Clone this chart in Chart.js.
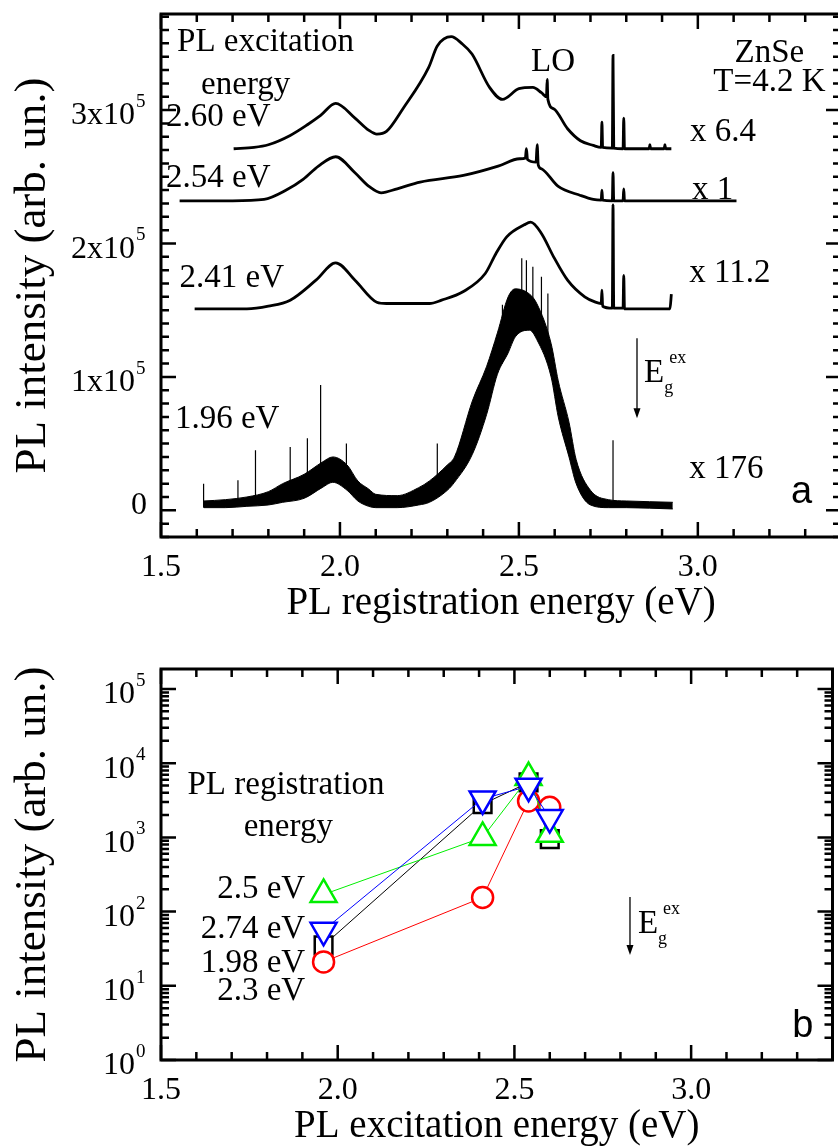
<!DOCTYPE html>
<html>
<head>
<meta charset="utf-8">
<script src="https://cdn.jsdelivr.net/npm/chart.js@4.4.1/dist/chart.umd.min.js"></script>
<style>
  html, body { margin: 0; padding: 0; background: #fff; overflow: hidden; }
  body { width: 838px; height: 1147px; position: relative; }
  canvas { position: absolute; left: 0; }
  #chartA { top: 0; }
  #chartB { top: 640px; }
</style>
</head>
<body>
<canvas id="chartA" width="850" height="640"></canvas>
<canvas id="chartB" width="850" height="512"></canvas>
<script>
const SERIF = "'Liberation Serif', 'Times New Roman', serif";
const SANS = "'Liberation Sans', Arial, sans-serif";

// ---- panel (a): PL spectra, energy in eV, intensity in 10^5 arb. un. (offsets as plotted)
// excitation 2.60 eV (x 6.4)
const e260 = [1.703, 1.76, 1.80, 1.861, 1.909, 1.946, 1.988, 2.042, 2.08, 2.103, 2.13, 2.176, 2.248, 2.272, 2.311, 2.34, 2.369, 2.418, 2.454, 2.50, 2.539, 2.563, 2.577, 2.579, 2.581, 2.597, 2.636, 2.672, 2.708, 2.730, 2.732, 2.734, 2.761, 2.763, 2.765, 2.791, 2.793, 2.795, 2.83, 2.864, 2.866, 2.868, 2.906, 2.908, 2.910, 2.926];
const i260 = [2.71, 2.72, 2.74, 2.81, 2.89, 2.96, 3.05, 2.94, 2.85, 2.82, 2.84, 3.01, 3.32, 3.48, 3.55, 3.50, 3.42, 3.17, 3.08, 3.16, 3.17, 3.13, 3.10, 3.23, 3.08, 3.01, 2.86, 2.77, 2.735, 2.72, 2.91, 2.72, 2.715, 3.41, 2.715, 2.71, 2.94, 2.71, 2.71, 2.71, 2.74, 2.71, 2.71, 2.74, 2.71, 2.71];
// excitation 2.54 eV (x 1)
const e254 = [1.552, 1.62, 1.70, 1.788, 1.85, 1.897, 1.94, 1.988, 2.042, 2.08, 2.115, 2.16, 2.224, 2.345, 2.442, 2.502, 2.518, 2.521, 2.524, 2.548, 2.551, 2.554, 2.563, 2.609, 2.672, 2.708, 2.730, 2.732, 2.734, 2.761, 2.763, 2.765, 2.791, 2.793, 2.795, 2.85, 2.90, 2.95, 3.00, 3.05, 3.108];
const i254 = [2.32, 2.32, 2.32, 2.33, 2.40, 2.48, 2.58, 2.65, 2.53, 2.43, 2.38, 2.41, 2.46, 2.51, 2.58, 2.635, 2.64, 2.71, 2.63, 2.61, 2.74, 2.59, 2.56, 2.43, 2.36, 2.33, 2.325, 2.40, 2.325, 2.32, 2.53, 2.32, 2.32, 2.41, 2.32, 2.32, 2.32, 2.32, 2.32, 2.32, 2.32];
// excitation 2.41 eV (x 11.2)
const e241 = [1.594, 1.74, 1.80, 1.861, 1.933, 1.988, 2.042, 2.103, 2.13, 2.25, 2.284, 2.345, 2.406, 2.436, 2.466, 2.515, 2.533, 2.563, 2.597, 2.636, 2.684, 2.714, 2.730, 2.732, 2.734, 2.761, 2.763, 2.765, 2.791, 2.793, 2.795, 2.85, 2.922, 2.926];
const i241 = [1.51, 1.51, 1.53, 1.575, 1.725, 1.855, 1.725, 1.56, 1.55, 1.55, 1.575, 1.64, 1.775, 1.925, 2.05, 2.14, 2.16, 2.075, 1.90, 1.725, 1.60, 1.56, 1.55, 1.65, 1.53, 1.515, 2.29, 1.515, 1.515, 1.76, 1.51, 1.51, 1.51, 1.62];
// excitation 1.96 eV (x 176): noisy, given as upper / lower envelope plus the tallest spikes
const e196 = [1.62, 1.68, 1.74, 1.80, 1.84, 1.90, 1.95, 1.98, 2.02, 2.05, 2.08, 2.10, 2.16, 2.22, 2.25, 2.30, 2.32, 2.37, 2.41, 2.44, 2.47, 2.49, 2.53, 2.55, 2.59, 2.61, 2.64, 2.66, 2.70, 2.75, 2.80, 2.93];
const up196 = [0.07, 0.08, 0.10, 0.14, 0.20, 0.27, 0.36, 0.40, 0.34, 0.22, 0.16, 0.12, 0.11, 0.17, 0.22, 0.34, 0.40, 0.82, 1.08, 1.33, 1.60, 1.66, 1.62, 1.55, 1.25, 0.97, 0.66, 0.38, 0.15, 0.08, 0.07, 0.06];
const lo196 = [0.02, 0.02, 0.03, 0.04, 0.06, 0.09, 0.17, 0.21, 0.15, 0.07, 0.03, 0.02, 0.02, 0.04, 0.06, 0.15, 0.21, 0.42, 0.72, 1.02, 1.18, 1.30, 1.35, 1.28, 1.00, 0.70, 0.40, 0.20, 0.04, 0.02, 0.02, 0.01];
const spikeE196 = [1.619, 1.715, 1.764, 1.861, 1.909, 1.946, 2.018, 2.272, 2.454, 2.508, 2.521, 2.539, 2.563, 2.581, 2.763];
const spikeTop196 = [0.20, 0.225, 0.45, 0.475, 0.54, 0.94, 0.50, 0.50, 1.54, 1.89, 1.875, 1.825, 1.75, 1.625, 0.525];
const spikeBase196 = [0.02, 0.03, 0.04, 0.07, 0.10, 0.18, 0.18, 0.12, 1.10, 1.35, 1.35, 1.35, 1.30, 1.20, 0.03];

// ---- panel (b): PL intensity vs excitation energy
const excEnergy = [1.96, 2.41, 2.54, 2.60];
const reg198 = [35, 2800, 5500, 950];    // black squares
const reg230 = [21, 155, 3100, 2550];    // red circles
const reg250 = [170, 1000, 6400, 1100];  // green triangles
const reg274 = [56, 3300, 4900, 1850];   // blue down triangles

// ---- axes
const xTickValues = [1.5, 2.0, 2.5, 3.0];
const topYTickValues = [0, 1, 2, 3];
const topYTickText = ['0', '1x10', '2x10', '3x10'];
const topYTickExp = ['', '5', '5', '5'];
const botYTickValues = [1, 10, 100, 1000, 10000, 100000];
const botYTickText = ['10', '10', '10', '10', '10', '10'];
const botYTickExp = ['0', '1', '2', '3', '4', '5'];

function tickRange(from, to, step) {
  const out = [];
  for (let v = from; v <= to + 1e-9; v += step) out.push(+v.toFixed(6));
  return out;
}
const xMinor = tickRange(1.5, 3.4, 0.1);
const topYMinor = tickRange(-0.2, 3.7, 0.1);
const botYMinor = [];
for (let k = 0; k < 5; k++) for (let m = 1; m < 10; m++) botYMinor.push(m * 10 ** k);
botYMinor.push(100000);

function pts(xs, ys) { return xs.map((v, i) => ({ x: v, y: ys[i] })); }

// draws frame, inward ticks, y tick labels with exponent, notes and the E_g^ex arrow
function makeDecor(cfg) {
  return {
    id: 'decor',
    afterDatasetsDraw(chart) {
      const { ctx, chartArea: a } = chart;
      const x = chart.scales.x, y = chart.scales.y;
      ctx.save();
      ctx.strokeStyle = '#000';
      ctx.fillStyle = '#000';
      ctx.lineWidth = 2.5;
      ctx.beginPath();
      xMinor.forEach(v => {
        const px = x.getPixelForValue(v);
        const len = xTickValues.includes(v) ? 15 : 8;
        ctx.moveTo(px, a.bottom); ctx.lineTo(px, a.bottom - len);
        ctx.moveTo(px, a.top); ctx.lineTo(px, a.top + len);
      });
      cfg.yMinor.forEach(v => {
        const py = y.getPixelForValue(v);
        if (py < a.top - 1 || py > a.bottom + 1) return;
        const len = cfg.yMajor.includes(v) ? 15 : 8;
        ctx.moveTo(a.left, py); ctx.lineTo(a.left + len, py);
        ctx.moveTo(a.right, py); ctx.lineTo(a.right - len, py);
      });
      ctx.stroke();
      ctx.lineWidth = 3;
      ctx.strokeRect(a.left, a.top, a.right - a.left, a.bottom - a.top);

      // y tick labels
      cfg.yMajor.forEach((v, i) => {
        const py = y.getPixelForValue(v);
        ctx.font = `32px ${SERIF}`;
        ctx.textAlign = 'right';
        ctx.textBaseline = 'middle';
        if (cfg.yExp[i]) {
          ctx.fillText(cfg.yText[i], a.left - 26, py + 6);
          ctx.font = `19px ${SERIF}`;
          ctx.textAlign = 'left';
          ctx.textBaseline = 'alphabetic';
          ctx.fillText(cfg.yExp[i], a.left - 25, py - 3);
        } else {
          ctx.fillText(cfg.yText[i], a.left - 14, py - 5);
        }
      });

      ctx.textBaseline = 'alphabetic';
      cfg.notes.forEach(n => {
        ctx.font = n.font || `33px ${SERIF}`;
        ctx.textAlign = n.align || 'left';
        ctx.fillText(n.text, x.getPixelForValue(n.x), y.getPixelForValue(n.y));
      });

      const ar = cfg.arrow;
      const ax = x.getPixelForValue(ar.x);
      const y1 = y.getPixelForValue(ar.from), y2 = y.getPixelForValue(ar.to);
      ctx.lineWidth = 1.3;
      ctx.beginPath(); ctx.moveTo(ax, y1); ctx.lineTo(ax, y2 - 8); ctx.stroke();
      ctx.beginPath();
      ctx.moveTo(ax - 3.5, y2 - 10); ctx.lineTo(ax + 3.5, y2 - 10); ctx.lineTo(ax, y2);
      ctx.closePath(); ctx.fill();
      const lx = x.getPixelForValue(ar.labelX), ly = y.getPixelForValue(ar.labelY);
      ctx.textAlign = 'left';
      ctx.font = `33px ${SERIF}`;
      ctx.fillText('E', lx, ly);
      const w = ctx.measureText('E').width;
      ctx.font = `18px ${SERIF}`;
      ctx.fillText('g', lx + w, ly + 11);
      ctx.fillText('ex', lx + w + 5, ly - 19);
      ctx.restore();
    }
  };
}

function xScale(title, height, titlePad) {
  return {
    type: 'linear', min: 1.5, max: 3.4,
    afterBuildTicks: s => { s.ticks = xTickValues.map(v => ({ value: v })); },
    afterFit: s => { s.height = height; },
    grid: { display: false, drawTicks: false },
    border: { display: false },
    ticks: { color: '#000', font: { family: SERIF, size: 32 }, padding: 11, maxRotation: 0,
             callback: v => v.toFixed(1) },
    title: { display: true, text: title, color: '#000', font: { family: SERIF, size: 39 },
             padding: { top: 0, bottom: titlePad } }
  };
}
function yTitle() {
  return { display: true, text: 'PL intensity (arb. un.)', color: '#000',
           font: { family: SERIF, size: 45 }, padding: { top: 6, bottom: 0 } };
}

const lineStyle = { borderColor: '#000', borderWidth: 2.8, pointRadius: 0, cubicInterpolationMode: 'monotone', fill: false };

// spikes as vertical segments separated by gaps
const spikePts = [];
spikeE196.forEach((e, i) => {
  spikePts.push({ x: e, y: spikeBase196[i] }, { x: e, y: spikeTop196[i] }, { x: e, y: null });
});

new Chart(document.getElementById('chartA'), {
  type: 'line',
  data: {
    datasets: [
      Object.assign({ data: pts(e260, i260) }, lineStyle),
      Object.assign({ data: pts(e254, i254) }, lineStyle),
      Object.assign({ data: pts(e241, i241) }, lineStyle),
      { data: pts(e196, up196), borderColor: '#000', borderWidth: 1, pointRadius: 0,
        cubicInterpolationMode: 'monotone', fill: '+1', backgroundColor: '#000' },
      { data: pts(e196, lo196), borderColor: '#000', borderWidth: 1, pointRadius: 0,
        cubicInterpolationMode: 'monotone', fill: false },
      { data: spikePts, borderColor: '#000', borderWidth: 1.2, pointRadius: 0, tension: 0,
        spanGaps: false, fill: false }
    ]
  },
  options: {
    responsive: false, animation: false, events: [],
    layout: { padding: { top: 14, right: 9, left: 0, bottom: 0 } },
    plugins: { legend: { display: false }, tooltip: { enabled: false } },
    scales: {
      x: xScale('PL registration energy (eV)', 103, 13),
      y: { type: 'linear', min: -0.2, max: 3.72,
           afterFit: s => { s.width = 161; },
           grid: { display: false, drawTicks: false }, border: { display: false },
           ticks: { display: false }, title: yTitle() }
    }
  },
  plugins: [makeDecor({
    yMinor: topYMinor, yMajor: topYTickValues, yText: topYTickText, yExp: topYTickExp,
    notes: [
      { text: 'PL excitation', x: 1.545, y: 3.44 },
      { text: 'energy', x: 1.612, y: 3.12 },
      { text: '2.60 eV', x: 1.514, y: 2.88 },
      { text: '2.54 eV', x: 1.514, y: 2.42 },
      { text: '2.41 eV', x: 1.552, y: 1.673 },
      { text: '1.96 eV', x: 1.539, y: 0.62 },
      { text: 'LO', x: 2.534, y: 3.29 },
      { text: 'ZnSe', x: 3.20, y: 3.36, align: 'center' },
      { text: 'T=4.2 K', x: 3.20, y: 3.143, align: 'center' },
      { text: 'x 6.4', x: 2.978, y: 2.768 },
      { text: 'x 1', x: 2.984, y: 2.333 },
      { text: 'x 11.2', x: 2.976, y: 1.71 },
      { text: 'x 176', x: 2.976, y: 0.24 },
      { text: 'a', x: 3.29, y: 0.055, align: 'center', font: `38px ${SANS}` }
    ],
    arrow: { x: 2.830, from: 1.29, to: 0.69, labelX: 2.8495, labelY: 0.96 }
  })]
});

function seriesB(values, color, style, radius, rotation) {
  return {
    data: pts(excEnergy, values),
    borderColor: color, borderWidth: 1, tension: 0, fill: false,
    pointStyle: style, pointRadius: radius, pointRotation: rotation,
    pointBorderColor: color, pointBackgroundColor: '#fff', pointBorderWidth: 2.5
  };
}

new Chart(document.getElementById('chartB'), {
  type: 'line',
  data: {
    datasets: [
      seriesB(reg274, '#0000ff', 'triangle', 15, 180),
      seriesB(reg250, '#00ee00', 'triangle', 15, 0),
      seriesB(reg230, '#ff0000', 'circle', 10.5, 0),
      seriesB(reg198, '#000000', 'rect', 12.5, 0)
    ]
  },
  options: {
    responsive: false, animation: false, events: [],
    layout: { padding: { top: 29, right: 9, left: 0, bottom: 0 } },
    plugins: { legend: { display: false }, tooltip: { enabled: false } },
    scales: {
      x: xScale('PL excitation energy (eV)', 92, 2),
      y: { type: 'logarithmic', min: 1, max: 186000,
           afterFit: s => { s.width = 161; },
           grid: { display: false, drawTicks: false }, border: { display: false },
           ticks: { display: false }, title: yTitle() }
    }
  },
  plugins: [makeDecor({
    yMinor: botYMinor, yMajor: botYTickValues, yText: botYTickText, yExp: botYTickExp,
    notes: [
      { text: 'PL registration', x: 1.575, y: 3846 },
      { text: 'energy', x: 1.734, y: 1045 },
      { text: '2.5 eV', x: 1.908, y: 152, align: 'right' },
      { text: '2.74 eV', x: 1.908, y: 44, align: 'right' },
      { text: '1.98 eV', x: 1.908, y: 15.3, align: 'right' },
      { text: '2.3 eV', x: 1.908, y: 6.4, align: 'right' },
      { text: 'b', x: 3.316, y: 2.04, align: 'center', font: `38px ${SANS}` }
    ],
    arrow: { x: 2.827, from: 157, to: 26, labelX: 2.8495, labelY: 51.5 }
  })]
});
</script>
</body>
</html>
